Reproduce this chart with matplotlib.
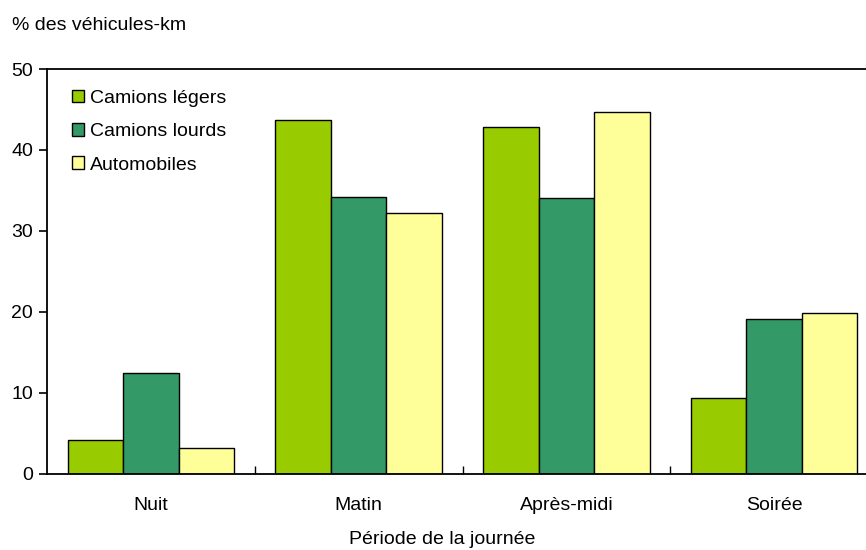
import matplotlib
matplotlib.use("Agg")
import matplotlib.pyplot as plt
import numpy as np

plt.rcParams['font.family'] = ['Liberation Sans', 'DejaVu Sans']

categories = ["Nuit", "Matin", "Après-midi", "Soirée"]
series_names = ["Camions légers", "Camions lourds", "Automobiles"]
camions_legers = [4.1, 43.7, 42.8, 9.3]
camions_lourds = [12.4, 34.2, 34.0, 19.1]
automobiles = [3.1, 32.2, 44.7, 19.9]
colors = ["#99CC00", "#339966", "#FFFF99"]
yticks = [0, 10, 20, 30, 40, 50]

FS = 14

fig = plt.figure(figsize=(8.66, 5.5), dpi=100)
ax = fig.add_axes([47/866, (550-473.5)/550, 831/866, (473.5-69)/550])

x = np.arange(len(categories)) + 0.5
w = 0.267
for i, (vals, name, c) in enumerate(zip([camions_legers, camions_lourds, automobiles], series_names, colors)):
    ax.bar(x + (i - 1) * w, vals, width=w, color=c, edgecolor="black", linewidth=1.0, label=name)

ax.set_xlim(0, 4)
ax.set_ylim(0, 50)
ax.set_yticks(yticks)
ax.set_yticklabels([str(t) for t in yticks], fontsize=FS)
ax.tick_params(axis='y', direction='out', length=6, width=1.2, pad=4)
ax.set_xticks([1, 2, 3])
ax.set_xticklabels([])
ax.tick_params(axis='x', direction='in', length=6, width=1.0)
ax.set_xticks(x, minor=True)
ax.set_xticklabels(categories, minor=True, fontsize=FS)
ax.tick_params(axis='x', which='minor', length=0, pad=17)
for s in ax.spines.values():
    s.set_linewidth(1.3)

leg = ax.legend(loc='upper left', bbox_to_anchor=(0.0135, 0.982), frameon=False, fontsize=FS,
                handlelength=0.62, handleheight=0.62, handletextpad=0.3, labelspacing=0.83,
                borderaxespad=0.3)

fig.text(12/866, 1 - 25/550, "% des véhicules-km", fontsize=FS, va='center', ha='left')
fig.text(442/866, 1 - 539/550, "Période de la journée", fontsize=FS, va='center', ha='center')

fig.savefig("out.png", dpi=100)
